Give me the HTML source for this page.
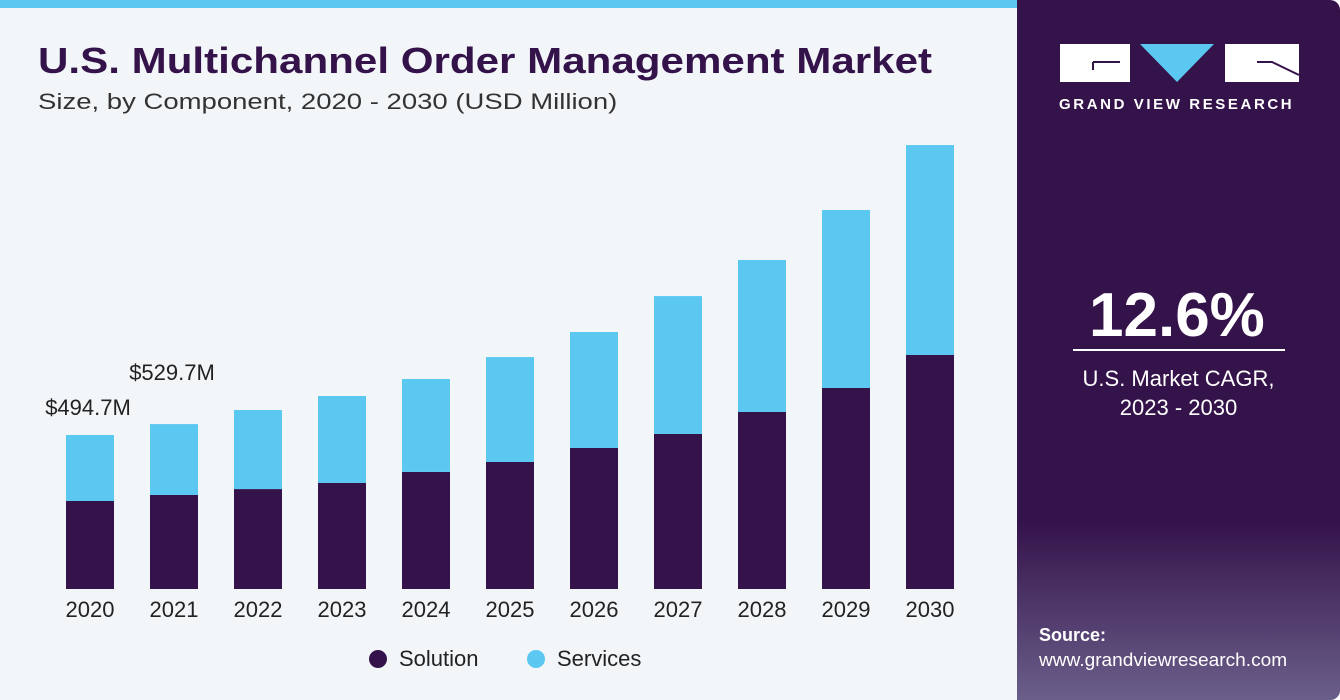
<!DOCTYPE html>
<html><head><meta charset="utf-8"><style>
body{margin:0;width:1340px;height:700px;overflow:hidden;background:#fff;font-family:"Liberation Sans",sans-serif}
#left{position:absolute;left:0;top:0;width:1017px;height:700px;background:#f3f6f9;border-top:8px solid #5bc8f2;box-sizing:border-box}
#right{position:absolute;left:1017px;top:0;width:323px;height:700px;background:#34124a;border-radius:0 10px 10px 0;overflow:hidden}
.t{position:absolute;white-space:nowrap;transform-origin:0 0}
</style></head><body>
<div id="left"></div>
<div class="t" style="left:38px;top:40px;font-size:36px;font-weight:bold;color:#34124a;transform:scaleX(1.17)">U.S. Multichannel Order Management Market</div>
<div class="t" style="left:38px;top:89px;font-size:22px;color:#333;transform:scaleX(1.25)">Size, by Component, 2020 - 2030 (USD Million)</div>
<svg id="chart" width="1017" height="700" style="position:absolute;left:0;top:0"></svg>
<div id="right">
  <svg width="323" height="700" style="position:absolute;left:0;top:0">
    <defs><linearGradient id="g" x1="0" y1="0" x2="0" y2="1"><stop offset="0" stop-color="#34124a"/><stop offset="1" stop-color="#6a5f8a"/></linearGradient></defs>
    <rect x="0" y="520" width="323" height="180" fill="url(#g)"/>
    <rect x="43" y="44" width="70" height="38" fill="#fff"/>
    <path d="M76 62 H103 M76 62 V70" stroke="#34124a" stroke-width="2" fill="none"/>
    <polygon points="123,44 197,44 160,82" fill="#5bc8f2"/>
    <rect x="208" y="44" width="74" height="38" fill="#fff"/>
    <path d="M240 62 H255 L282 75" stroke="#34124a" stroke-width="2" fill="none"/>
  </svg>
  <div class="t" style="left:42px;top:96px;font-size:15px;font-weight:bold;color:#fff;letter-spacing:2.6px">GRAND VIEW RESEARCH</div>
  <div class="t" style="left:72px;top:280px;font-size:62px;font-weight:bold;color:#fff">12.6%</div>
  <div style="position:absolute;left:56px;top:349px;width:212px;height:2px;background:#fff"></div>
  <div class="t" style="left:0;width:323px;text-align:center;top:364px;font-size:22px;color:#fff;line-height:29px">U.S. Market CAGR,<br>2023 - 2030</div>
  <div class="t" style="left:22px;top:625px;font-size:18px;font-weight:bold;color:#fff">Source:</div>
  <div class="t" style="left:22px;top:650px;font-size:18px;color:#fff;transform:scaleX(1.06)">www.grandviewresearch.com</div>
</div>
<script>
const years=["2020","2021","2022","2023","2024","2025","2026","2027","2028","2029","2030"];
const solution=[282.7,302,321,340.5,376,408,453,498,568.6,645.7,751.7];
const services=[212,227.7,254,279.5,298.6,337,372.6,443,488.4,571.8,674.3];
const annotations=["$494.7M","$529.7M"];
const svg=document.getElementById('chart');
const NS='http://www.w3.org/2000/svg';
const base=589,k=154/494.7,x0=66,step=84,bw=48;
const annOffsets=[20,44];
const xs=i=>x0+i*step;
const ys=v=>v*k;
function mk(t,a){const e=document.createElementNS(NS,t);for(const n in a)e.setAttribute(n,a[n]);svg.appendChild(e);return e;}
years.forEach((y,i)=>{
  const hs=ys(solution[i]),hv=ys(services[i]);
  const r1=mk('rect',{x:xs(i),y:base-hs,width:bw,height:hs,fill:'#34124a'});
  
  
  const r2=mk('rect',{x:xs(i),y:base-hs-hv,width:bw,height:hv,fill:'#5bc8f2'});
  
  
  const t=mk('text',{x:xs(i)+bw/2,y:617,'text-anchor':'middle','font-size':22,fill:'#222'});
  t.textContent=y;
  
  
});
annotations.forEach((a,i)=>{
  const tot=solution[i]+services[i];
  const t=mk('text',{x:xs(i)+bw/2-2,y:base-ys(tot)-annOffsets[i],'text-anchor':'middle','font-size':22,fill:'#222'});
  t.textContent=a;
  
  
});
const l1=mk('circle',{cx:378,cy:659,r:9,fill:'#34124a'});


const lt1=mk('text',{x:399,y:666,'font-size':22,fill:'#222'});lt1.textContent='Solution';


const l2=mk('circle',{cx:536,cy:659,r:9,fill:'#5bc8f2'});


const lt2=mk('text',{x:557,y:666,'font-size':22,fill:'#222'});lt2.textContent='Services';


</script>
</body></html>
